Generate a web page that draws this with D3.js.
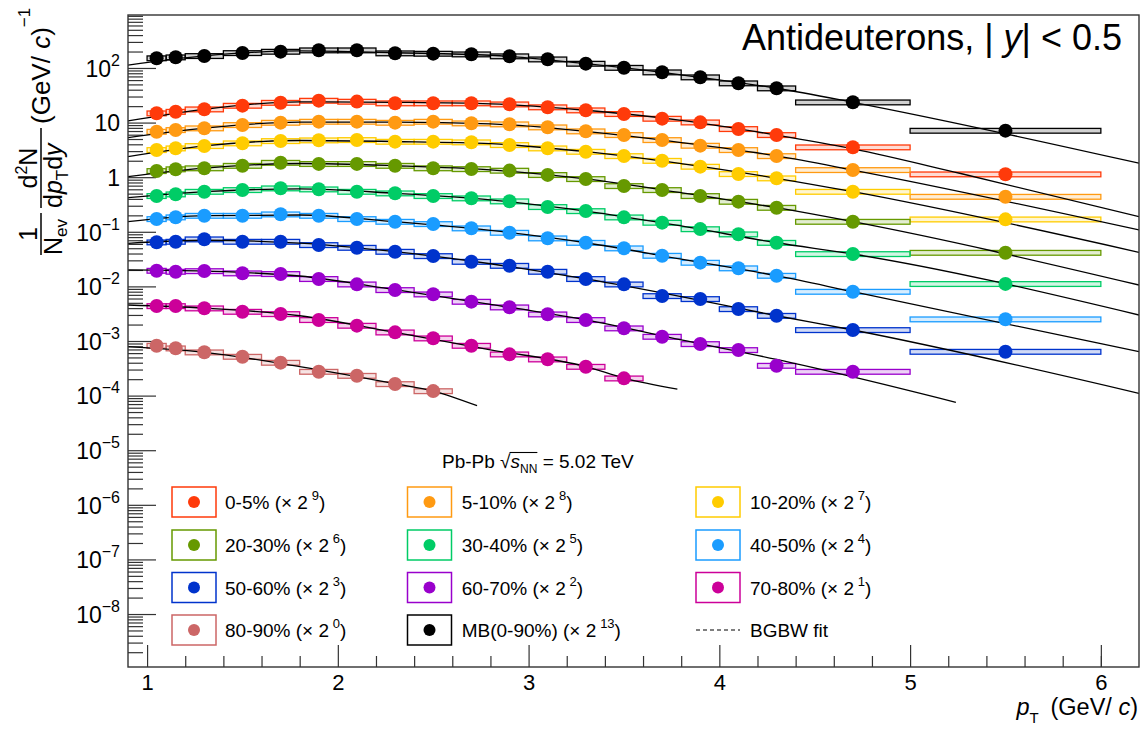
<!DOCTYPE html>
<html><head><meta charset="utf-8">
<script src="https://cdn.jsdelivr.net/npm/d3@7"></script>
<style>
body{margin:0;background:#fff}
svg text{font-family:"Liberation Sans",Arial,Helvetica,sans-serif;fill:#000}
</style>
</head><body>
<svg id="c" width="1140" height="729"></svg>
<script>
// ---------------- data ----------------
const pTCenters = [1.05,1.15,1.3,1.5,1.7,1.9,2.1,2.3,2.5,2.7,2.9,3.1,3.3,3.5,3.7,3.9,4.1,4.3,4.7,5.5];
const binLow    = [1.0,1.1,1.2,1.4,1.6,1.8,2.0,2.2,2.4,2.6,2.8,3.0,3.2,3.4,3.6,3.8,4.0,4.2,4.4,5.0];
const binHigh   = [1.1,1.2,1.4,1.6,1.8,2.0,2.2,2.4,2.6,2.8,3.0,3.2,3.4,3.6,3.8,4.0,4.2,4.4,5.0,6.0];

const seriesNames    = ["MB(0-90%)","0-5%","5-10%","10-20%","20-30%","30-40%","40-50%","50-60%","60-70%","70-80%","80-90%"];
const scaleExponents = [13,9,8,7,6,5,4,3,2,1,0];
const seriesColors   = ["#000000","#ff3a0a","#ff9a12","#ffcc00","#669900","#00cc66","#1a9cff","#0033cc","#9900cc","#cc0099","#cc6666"];
const relSyst        = [0.1,0.1,0.1,0.1,0.1,0.1,0.1,0.1,0.1,0.1,0.1];

const valMB    = [151,157,166,188,199,211,211,186,183,178,164,144,120,101,83.4,67.6,52.5,42.5,23.5,7.11];
const val0_5   = [14.8,15.8,17.5,20.4,23.1,25.2,24.2,22.6,22.6,22.6,21.6,19.1,16.8,14.4,11.8,10.1,7.64,5.93,3.53,1.13];
const val5_10  = [6.81,7.32,7.87,9.04,9.96,10.4,10.4,9.96,10.4,9.71,9.31,8.20,6.93,5.93,4.80,3.78,3.15,2.44,1.355,0.439];
const val10_20 = [3.15,3.38,3.73,4.18,4.60,4.74,4.80,4.47,4.47,4.36,3.89,3.38,2.93,2.44,2.00,1.56,1.145,0.955,0.542,0.169];
const val20_30 = [1.30,1.40,1.46,1.62,1.84,1.75,1.75,1.62,1.46,1.41,1.32,1.10,0.927,0.690,0.583,0.453,0.356,0.276,0.153,0.0414];
const val30_40 = [0.453,0.486,0.542,0.583,0.626,0.600,0.542,0.507,0.453,0.411,0.362,0.285,0.240,0.184,0.147,0.112,0.090,0.063,0.0392,0.0111];
const val40_50 = [0.1715,0.1845,0.197,0.197,0.209,0.197,0.1715,0.153,0.139,0.116,0.0963,0.076,0.063,0.0499,0.0365,0.0272,0.0215,0.0157,0.0080,0.0025];
const val50_60 = [0.0642,0.0659,0.0729,0.0659,0.0659,0.0573,0.0511,0.0432,0.0360,0.0283,0.0239,0.0186,0.0137,0.0109,0.00667,0.00588,0.00385,0.0029,0.00159,0.000637];
const val60_70 = [0.0194,0.0186,0.0191,0.0174,0.0169,0.0137,0.0109,0.00859,0.00716,0.00525,0.00414,0.00308,0.00243,0.00171,0.0012,0.000881,0.000684,0.000353,0.000274];
const val70_80 = [0.00437,0.00437,0.00397,0.00344,0.00312,0.00243,0.00191,0.00144,0.00112,0.00082,0.00057,0.000462,0.000338,0.000207];
const val80_90 = [0.00082,0.000735,0.000621,0.000516,0.000401,0.000274,0.000231,0.000163,0.000121];

// BGBW fit curves (pT, value)
const fitPtLong = [0.9,1.3,1.8,2.3,2.8,3.3,3.8,4.3,4.7,6.2];
const fitMB    = [113,166,205,190,171,120,75,42.5,23.5,1.80];
const fit0_5Pt = [0.9,1.3,1.8,2.3,2.8,3.3,3.8,4.3,4.7,5.26,6.2];
const fit0_5   = [10.7,17.5,24,23.5,22,16.8,11,5.9,3.3,1.18,0.189];
const fit5_10  = [5.29,7.9,10.2,10.2,9.5,6.9,4.3,2.45,1.35,0.108];
const fit10_20 = [2.37,3.73,4.7,4.5,4.1,2.93,1.77,0.955,0.542,0.0421];
const fit20_30 = [1.02,1.46,1.78,1.62,1.36,0.927,0.52,0.276,0.153,0.0106];
const fit30_40 = [0.421,0.542,0.61,0.507,0.385,0.240,0.128,0.063,0.0392,0.00299];
const fit40_50 = [0.153,0.197,0.203,0.153,0.106,0.063,0.0315,0.0157,0.0080,0.000637];
const fit50_60 = [0.0615,0.070,0.062,0.0432,0.026,0.0137,0.0065,0.0029,0.00159,0.000110];
const fit60_70Pt = [0.9,1.3,1.8,2.3,2.8,3.3,3.8,4.3,4.7,5.24];
const fit60_70 = [0.020,0.019,0.0155,0.0087,0.0047,0.00243,0.00105,0.00046,0.00022,0.0000754];
const fit70_80Pt = [0.9,1.3,1.8,2.3,2.8,3.3,3.5,3.78];
const fit70_80 = [0.00456,0.0040,0.0029,0.00144,0.00069,0.00034,0.00021,0.000132];
const fit80_90Pt = [0.9,1.3,1.8,2.3,2.5,2.73];
const fit80_90 = [0.000787,0.00062,0.00034,0.000165,0.000121,0.0000653];

const xMajorTicks = [1,2,3,4,5,6];
const xMinorTicks = [1.2,1.4,1.6,1.8,2.2,2.4,2.6,2.8,3.2,3.4,3.6,3.8,4.2,4.4,4.6,4.8,5.2,5.4,5.6,5.8,6.0];
const yMajorExponents = [-8,-7,-6,-5,-4,-3,-2,-1,0,1,2];

const titleText = "Antideuterons, | ";
const legendHeader = "Pb-Pb";

// ---------------- build ----------------
const seriesValues = [valMB,val0_5,val5_10,val10_20,val20_30,val30_40,val40_50,val50_60,val60_70,val70_80,val80_90];
const fitPts  = [fitPtLong,fit0_5Pt,fitPtLong,fitPtLong,fitPtLong,fitPtLong,fitPtLong,fitPtLong,fit60_70Pt,fit70_80Pt,fit80_90Pt];
const fitVals = [fitMB,fit0_5,fit5_10,fit10_20,fit20_30,fit30_40,fit40_50,fit50_60,fit60_70,fit70_80,fit80_90];
const series = seriesNames.map((name,i)=>({name,color:seriesColors[i],exp:scaleExponents[i],values:seriesValues[i],syst:relSyst[i],fit:d3.zip(fitPts[i],fitVals[i])}));

const svg = d3.select("#c");
const L=128,R=1139,T=15,B=667;
const x = d3.scaleLinear().domain([0.9,6.2]).range([L,R]);
const y = d3.scaleLog().domain([Math.pow(10,-8.97),Math.pow(10,2.97)]).range([B,T]);

svg.append("defs").append("clipPath").attr("id","clip").append("rect")
  .attr("x",L).attr("y",T).attr("width",R-L).attr("height",B-T);

const axisColor="#333";
// x axis
const gxMin = svg.append("g").attr("transform",`translate(0,${B})`)
  .call(d3.axisBottom(x).tickValues(xMinorTicks).tickSize(-11).tickFormat(""));
const gxMaj = svg.append("g").attr("transform",`translate(0,${B})`)
  .call(d3.axisBottom(x).tickValues(xMajorTicks).tickSize(-22).tickPadding(7).tickFormat(d3.format("d")));
gxMaj.selectAll("text").attr("font-size",22).attr("fill","#000");
// y axis
const yMinorVals=[];
for(let e=-9;e<=2;e++) for(let k=2;k<=9;k++){const v=k*Math.pow(10,e); if(v>y.domain()[0]&&v<y.domain()[1]) yMinorVals.push(v);}
const gyMin = svg.append("g").attr("transform",`translate(${L},0)`)
  .call(d3.axisLeft(y).tickValues(yMinorVals).tickSize(-15).tickFormat(""));
const gyMaj = svg.append("g").attr("transform",`translate(${L},0)`)
  .call(d3.axisLeft(y).tickValues(yMajorExponents.map(e=>Math.pow(10,e))).tickSize(-28).tickPadding(8).tickFormat(""));
gyMaj.selectAll(".tick text").each(function(d){
  const t=d3.select(this).attr("font-size",23).attr("dy","0.36em");
  const e=Math.round(Math.log10(d));
  if(e===0){t.text("1");}
  else if(e===1){t.text("10");}
  else{
    t.append("tspan").text("10");
    t.append("tspan").attr("font-size",16).attr("dy",-11).text(e<0?"\u2212"+(-e):String(e));
  }
});
[gxMin,gxMaj,gyMin,gyMaj].forEach(g=>{g.select(".domain").remove();g.selectAll("line").attr("stroke",axisColor).attr("stroke-width",1.2);});

// plot contents
const plot = svg.append("g").attr("clip-path","url(#clip)");
series.forEach(s=>{
  plot.append("g").selectAll("rect").data(s.values).join("rect")
    .attr("x",(v,i)=>x(binLow[i])).attr("width",(v,i)=>x(binHigh[i])-x(binLow[i]))
    .attr("y",v=>y(v*(1+s.syst))).attr("height",v=>y(v*(1-s.syst))-y(v*(1+s.syst)))
    .attr("fill",s.color).attr("fill-opacity",0.18).attr("stroke",s.color).attr("stroke-width",1.3);
});
const line = d3.line().x(d=>x(d[0])).y(d=>y(d[1])).curve(d3.curveMonotoneX);
series.forEach(s=>{
  plot.append("path").attr("d",line(s.fit)).attr("fill","none").attr("stroke","#000").attr("stroke-width",1.3);
});
series.forEach(s=>{
  plot.append("g").selectAll("circle").data(s.values).join("circle")
    .attr("cx",(v,i)=>x(pTCenters[i])).attr("cy",v=>y(v)).attr("r",7).attr("fill",s.color);
});

// frame
svg.append("rect").attr("x",L).attr("y",T).attr("width",R-L).attr("height",B-T)
  .attr("fill","none").attr("stroke",axisColor).attr("stroke-width",1.4);

// title
const tt = svg.append("text").attr("x",1122).attr("y",50).attr("text-anchor","end").attr("font-size",36);
tt.append("tspan").text(titleText);
tt.append("tspan").attr("font-style","italic").text("y");
tt.append("tspan").text("| < 0.5");

// x axis title
const xt = svg.append("text").attr("x",1138).attr("y",715).attr("text-anchor","end").attr("font-size",23.5);
xt.append("tspan").attr("font-style","italic").text("p");
xt.append("tspan").attr("font-size",15).attr("dy",8).text("T");
xt.append("tspan").attr("dy",-8).text("\u2002(GeV/ ");
xt.append("tspan").attr("font-style","italic").text("c");
xt.append("tspan").text(")");

// y axis title (rotated)
const yt = svg.append("g").attr("transform","translate(41,0) rotate(-90)");
yt.append("line").attr("x1",-255).attr("x2",-213).attr("y1",0).attr("y2",0).attr("stroke","#000").attr("stroke-width",1.5);
yt.append("text").attr("x",-234).attr("y",-4).attr("text-anchor","middle").attr("font-size",25).text("1");
const yd1 = yt.append("text").attr("x",-255).attr("y",21).attr("font-size",25);
yd1.append("tspan").text("N");
yd1.append("tspan").attr("font-size",17).attr("dy",5).text("ev");
yt.append("line").attr("x1",-208).attr("x2",-128).attr("y1",0).attr("y2",0).attr("stroke","#000").attr("stroke-width",1.5);
const yn2 = yt.append("text").attr("x",-168).attr("y",-4).attr("text-anchor","middle").attr("font-size",25);
yn2.append("tspan").text("d");
yn2.append("tspan").attr("font-size",16).attr("dy",-10).text("2");
yn2.append("tspan").attr("dy",10).text("N");
const yd2 = yt.append("text").attr("x",-208).attr("y",21).attr("font-size",25);
yd2.append("tspan").text("d");
yd2.append("tspan").attr("font-style","italic").text("p");
yd2.append("tspan").attr("font-size",17).attr("dy",6).text("T");
yd2.append("tspan").attr("dy",-6).text("d");
yd2.append("tspan").attr("font-style","italic").text("y");
const yu = yt.append("text").attr("x",-124).attr("y",9).attr("font-size",26);
yu.append("tspan").text("(GeV/ ");
yu.append("tspan").attr("font-style","italic").text("c");
yu.append("tspan").text(")");
yu.append("tspan").attr("font-size",17).attr("dy",-20).text("\u22121");

// legend
const colBoxX=[172,407.5,696], colTextX=[225,461.7,750], rowY=[502,545,587.5,630];
const legendOrder=[1,2,3,4,5,6,7,8,9,10,0];
const lg = svg.append("g");
legendOrder.forEach((si,k)=>{
  const s=series[si], c=k%3, r=Math.floor(k/3);
  lg.append("rect").attr("x",colBoxX[c]).attr("y",rowY[r]-15).attr("width",44).attr("height",30)
    .attr("fill","#fff").attr("stroke",s.color).attr("stroke-width",1.5);
  lg.append("circle").attr("cx",colBoxX[c]+22).attr("cy",rowY[r]).attr("r",6).attr("fill",s.color);
  const t=lg.append("text").attr("x",colTextX[c]).attr("y",rowY[r]+7).attr("font-size",19);
  t.append("tspan").text(s.name+" (\u00d7 2\u2009");
  t.append("tspan").attr("font-size",13).attr("dy",-9).text(String(s.exp));
  t.append("tspan").attr("dy",9).text(")");
});
lg.append("line").attr("x1",696).attr("x2",740).attr("y1",630).attr("y2",630)
  .attr("stroke","#000").attr("stroke-width",1.2).attr("stroke-dasharray","4,3");
lg.append("text").attr("x",750).attr("y",637).attr("font-size",19).text("BGBW fit");

// legend header
const hd = svg.append("text").attr("x",442).attr("y",468).attr("font-size",19);
hd.append("tspan").text(legendHeader+" \u221a");
hd.append("tspan").attr("font-style","italic").text("s");
hd.append("tspan").attr("font-size",12).attr("dy",5).text("NN");
hd.append("tspan").attr("dy",-5).text(" = 5.02 TeV");
const hn=hd.node();
const ex=hn.getEndPositionOfChar(9).x;
const rw=hn.getExtentOfChar(6);
svg.append("line").attr("x1",rw.x+rw.width-1).attr("x2",ex).attr("y1",rw.y+1.5).attr("y2",rw.y+1.5).attr("stroke","#000").attr("stroke-width",1.1);
</script>
</body></html>
